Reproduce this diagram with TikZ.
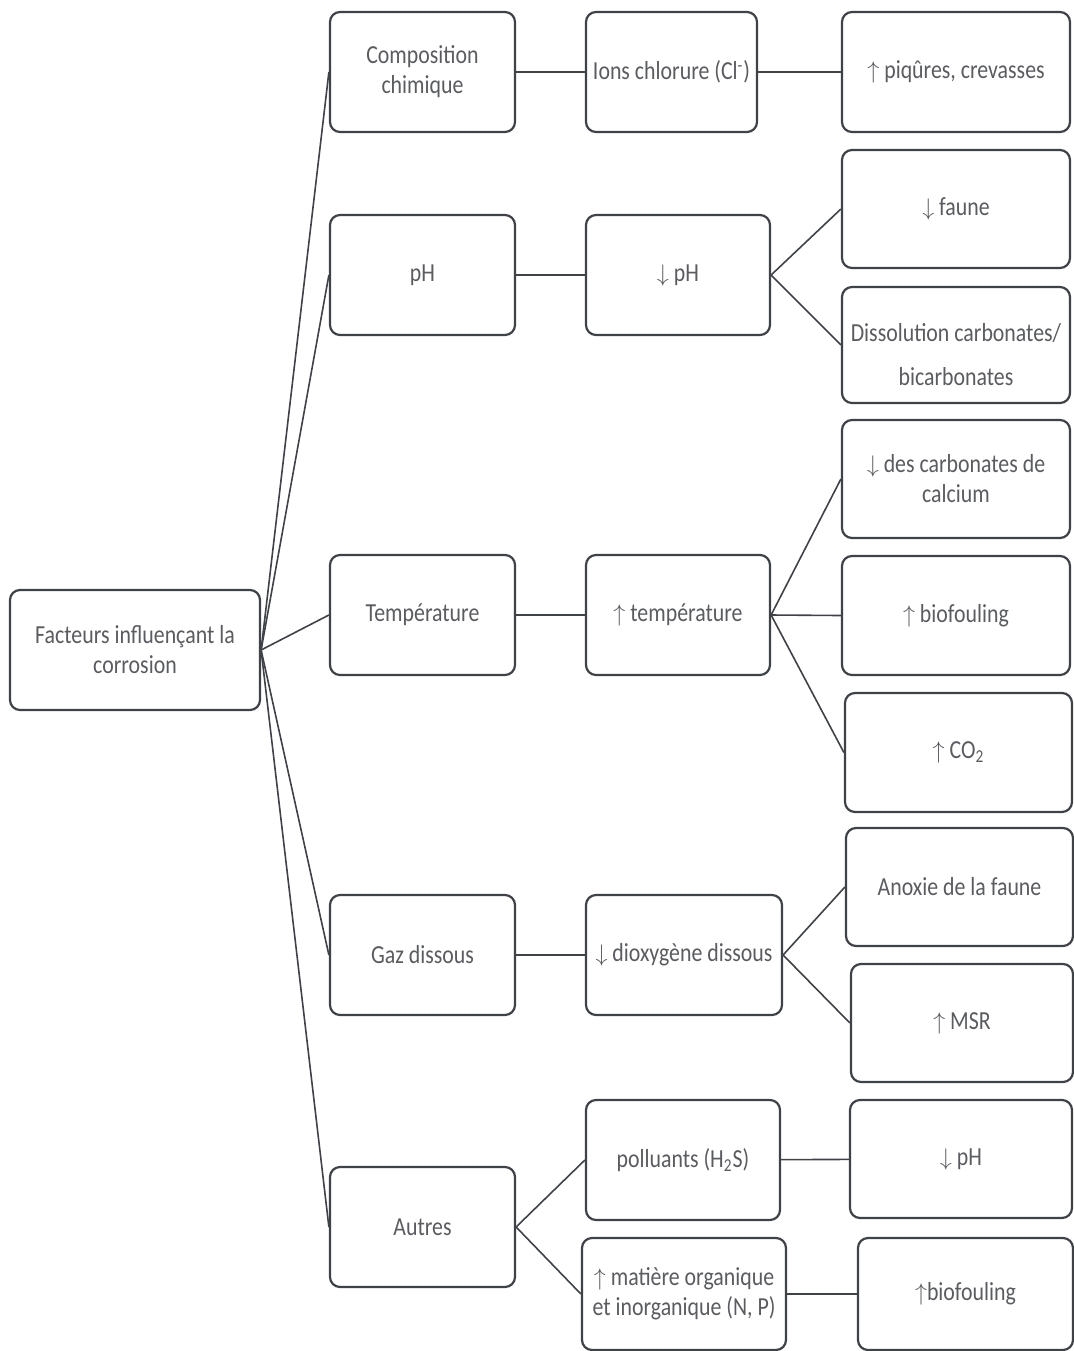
\documentclass[tikz,border=0pt]{standalone}
\usepackage{fontspec}
\setmainfont[FakeStretch=0.84]{Carlito}
\usepackage{tikz}
\definecolor{boxline}{HTML}{3F4247}
\definecolor{txtgray}{HTML}{5A5C60}
\tikzset{
  box/.style={draw=boxline, line width=1.1pt, rounded corners=5pt, fill=white,
    text=txtgray, align=center, inner sep=0pt, minimum width=92.5pt, minimum height=60pt,
    font=\fontsize{13}{15}\selectfont},
  link/.style={draw=boxline, line width=0.8pt}
}

\begin{document}
\begin{tikzpicture}[x=0.5pt, y=-0.5pt]
			%%%%% FRAME %%%%%
			\useasboundingbox (0,0) rectangle (1074,1351);
			
			%%%%% ROOT %%%%%
			\node[box, minimum width=125pt] (facteurs) at (135,650) {Facteurs influençant la\\corrosion};
			
			%%%%% FACTEURS %%%%%
			\node[box] (compo) at (422.5,72) {Composition\\chimique};
			\node[box] (ph) at (422.5,275) {pH};
			\node[box] (temp) at (422.5,615) {Température};
			\node[box] (gaz) at (422.5,955) {Gaz dissous};
			\node[box] (autres) at (422.5,1227) {Autres};
			
			%%%%% CAUSES %%%%%
			\node[box, minimum width=85.5pt] (ions) at (671.5,72) {Ions chlorure (Cl\textsuperscript{-})};
			\node[box, minimum width=92pt] (baissepH) at (678,275) {$\downarrow$ pH};
			\node[box, minimum width=92pt] (hausseT) at (678,615) {$\uparrow$ température};
			\node[box, minimum width=98pt] (oxy) at (684,955) {$\downarrow$ dioxygène dissous};
			\node[box, minimum width=97pt] (polluants) at (683,1160) {polluants (H\textsubscript{2}S)};
			\node[box, minimum width=102pt, minimum height=56pt] (matiere) at (684,1294) {$\uparrow$ matière organique\\et inorganique (N, P)};
			
			%%%%% EFFETS %%%%%
			\node[box, minimum width=114pt] (piqures) at (956,72) {$\uparrow$ piqûres, crevasses};
			\node[box, minimum width=114pt, minimum height=59pt] (faune) at (956,209) {$\downarrow$ faune};
			\node[box, minimum width=114pt, minimum height=58pt, font=\fontsize{13}{22}\selectfont] (dissol) at (956,345) {\rule{0pt}{19pt}Dissolution carbonates/\\bicarbonates};
			\node[box, minimum width=114pt, minimum height=59pt] (carbo) at (956,479) {$\downarrow$ des carbonates de\\calcium};
			\node[box, minimum width=114pt, minimum height=59.5pt] (biofoul) at (956,615.5) {$\uparrow$ biofouling};
			\node[box, minimum width=113.5pt, minimum height=59.5pt] (co2) at (958.5,752.5) {$\uparrow$ CO\textsubscript{2}};
			\node[box, minimum width=113.5pt, minimum height=59pt] (anoxie) at (959.5,887) {Anoxie de la faune};
			\node[box, minimum width=111pt, minimum height=59pt] (msr) at (962,1023) {$\uparrow$ MSR};
			\node[box, minimum width=111pt, minimum height=59pt] (phbas) at (961,1159) {$\downarrow$ pH};
			\node[box, minimum width=107.5pt, minimum height=56pt] (biofoulb) at (965.5,1294) {$\uparrow$biofouling};
			
			%%%%% LIENS %%%%%
			\foreach \f in {compo,ph,temp,gaz,autres}
				\draw[link] (facteurs.east) -- (\f.west);
			
			\draw[link] (compo) -- (ions);
			\draw[link] (ph) -- (baissepH);
			\draw[link] (temp) -- (hausseT);
			\draw[link] (gaz) -- (oxy);
			\draw[link] (autres.east) -- (polluants.west);
			\draw[link] (autres.east) -- (matiere.west);
			
			\draw[link] (ions) -- (piqures);
			\draw[link] (baissepH.east) -- (faune.west);
			\draw[link] (baissepH.east) -- (dissol.west);
			\foreach \e in {carbo,biofoul,co2}
				\draw[link] (hausseT.east) -- (\e.west);
			\draw[link] (oxy.east) -- (anoxie.west);
			\draw[link] (oxy.east) -- (msr.west);
			\draw[link] (polluants) -- (phbas);
			\draw[link] (matiere) -- (biofoulb);
			
			%%%%% END %%%%%
\end{tikzpicture}
\end{document}
